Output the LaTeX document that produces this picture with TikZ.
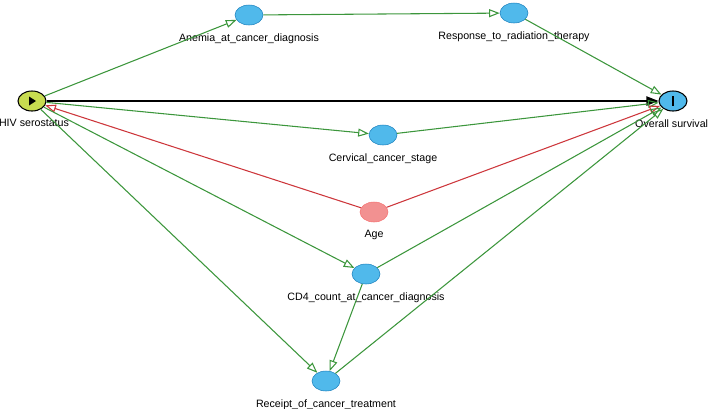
\documentclass[tikz,border=0pt]{standalone}
\usepackage{fontspec}
\setmainfont{Liberation Sans}
\usetikzlibrary{shapes.geometric,arrows.meta}
\definecolor{edgegreen}{RGB}{60,150,60}
\definecolor{edgered}{RGB}{205,55,60}
\definecolor{nodeblue}{RGB}{80,185,235}
\definecolor{nodeline}{RGB}{30,130,190}
\definecolor{nodepink}{RGB}{242,145,145}
\definecolor{nodeyellow}{RGB}{200,220,80}
\begin{document}
\begin{tikzpicture}[x=0.75pt,y=-0.75pt,
		var/.style={ellipse,draw=nodeline,fill=nodeblue,minimum width=21pt,minimum height=15pt,inner sep=0pt},
		lab/.style={font=\fontsize{8}{9}\selectfont,label distance=2.5pt},
		causal/.style={draw=edgegreen,line width=0.8pt,-{Triangle[open,length=8pt,width=6pt]}},
		biasing/.style={draw=edgered,line width=0.8pt,-{Triangle[open,length=8pt,width=6pt]}}]
		\useasboundingbox (0,0) rectangle (708,408);
		% Exposition und Outcome
		\node [var,fill=nodeyellow,draw=black,thick] (hiv) at (32,101) [label={[lab,xshift=1.5pt]below:HIV serostatus}] {};
		\node [var,draw=black,thick] (survival) at (673,101) [label={[lab,xshift=-1pt]below:Overall survival}] {};
		\fill (hiv.center) ++(-3,-4.5) -- ++(0,9) -- ++(7,-4.5) -- cycle;
		\fill (survival.center) ++(-1.2,-5) rectangle ++(2.4,10);
		% weitere Variablen
		\node [var] (anemia) at (249,15) [label={[lab]below:Anemia\_at\_cancer\_diagnosis}] {};
		\node [var] (response) at (514,13) [label={[lab]below:Response\_to\_radiation\_therapy}] {};
		\node [var] (cervical) at (383,135) [label={[lab]below:Cervical\_cancer\_stage}] {};
		\node [var,fill=nodepink,draw=nodepink!80!red] (age) at (374,212) [label={[lab]below:Age}] {};
		\node [var] (cd4) at (366,274) [label={[lab]below:CD4\_count\_at\_cancer\_diagnosis}] {};
		\node [var] (receipt) at (326,381) [label={[lab]below:Receipt\_of\_cancer\_treatment}] {};
		% Pfeile
		\draw [thick,-{Triangle[length=9pt,width=7pt]}] (hiv) -- (survival);
		\draw [causal] (hiv) -- (anemia);
		\draw [causal] (anemia) -- (response);
		\draw [causal] (response) -- (survival);
		\draw [causal] (hiv) -- (cervical);
		\draw [causal] (cervical) -- (survival);
		\draw [biasing] (age) -- (hiv);
		\draw [biasing] (age) -- (survival);
		\draw [causal] (hiv) -- (cd4);
		\draw [causal] (cd4) -- (survival);
		\draw [causal] (hiv) -- (receipt);
		\draw [causal] (cd4) -- (receipt);
		\draw [causal] (receipt) -- (survival);
\end{tikzpicture}
\end{document}
